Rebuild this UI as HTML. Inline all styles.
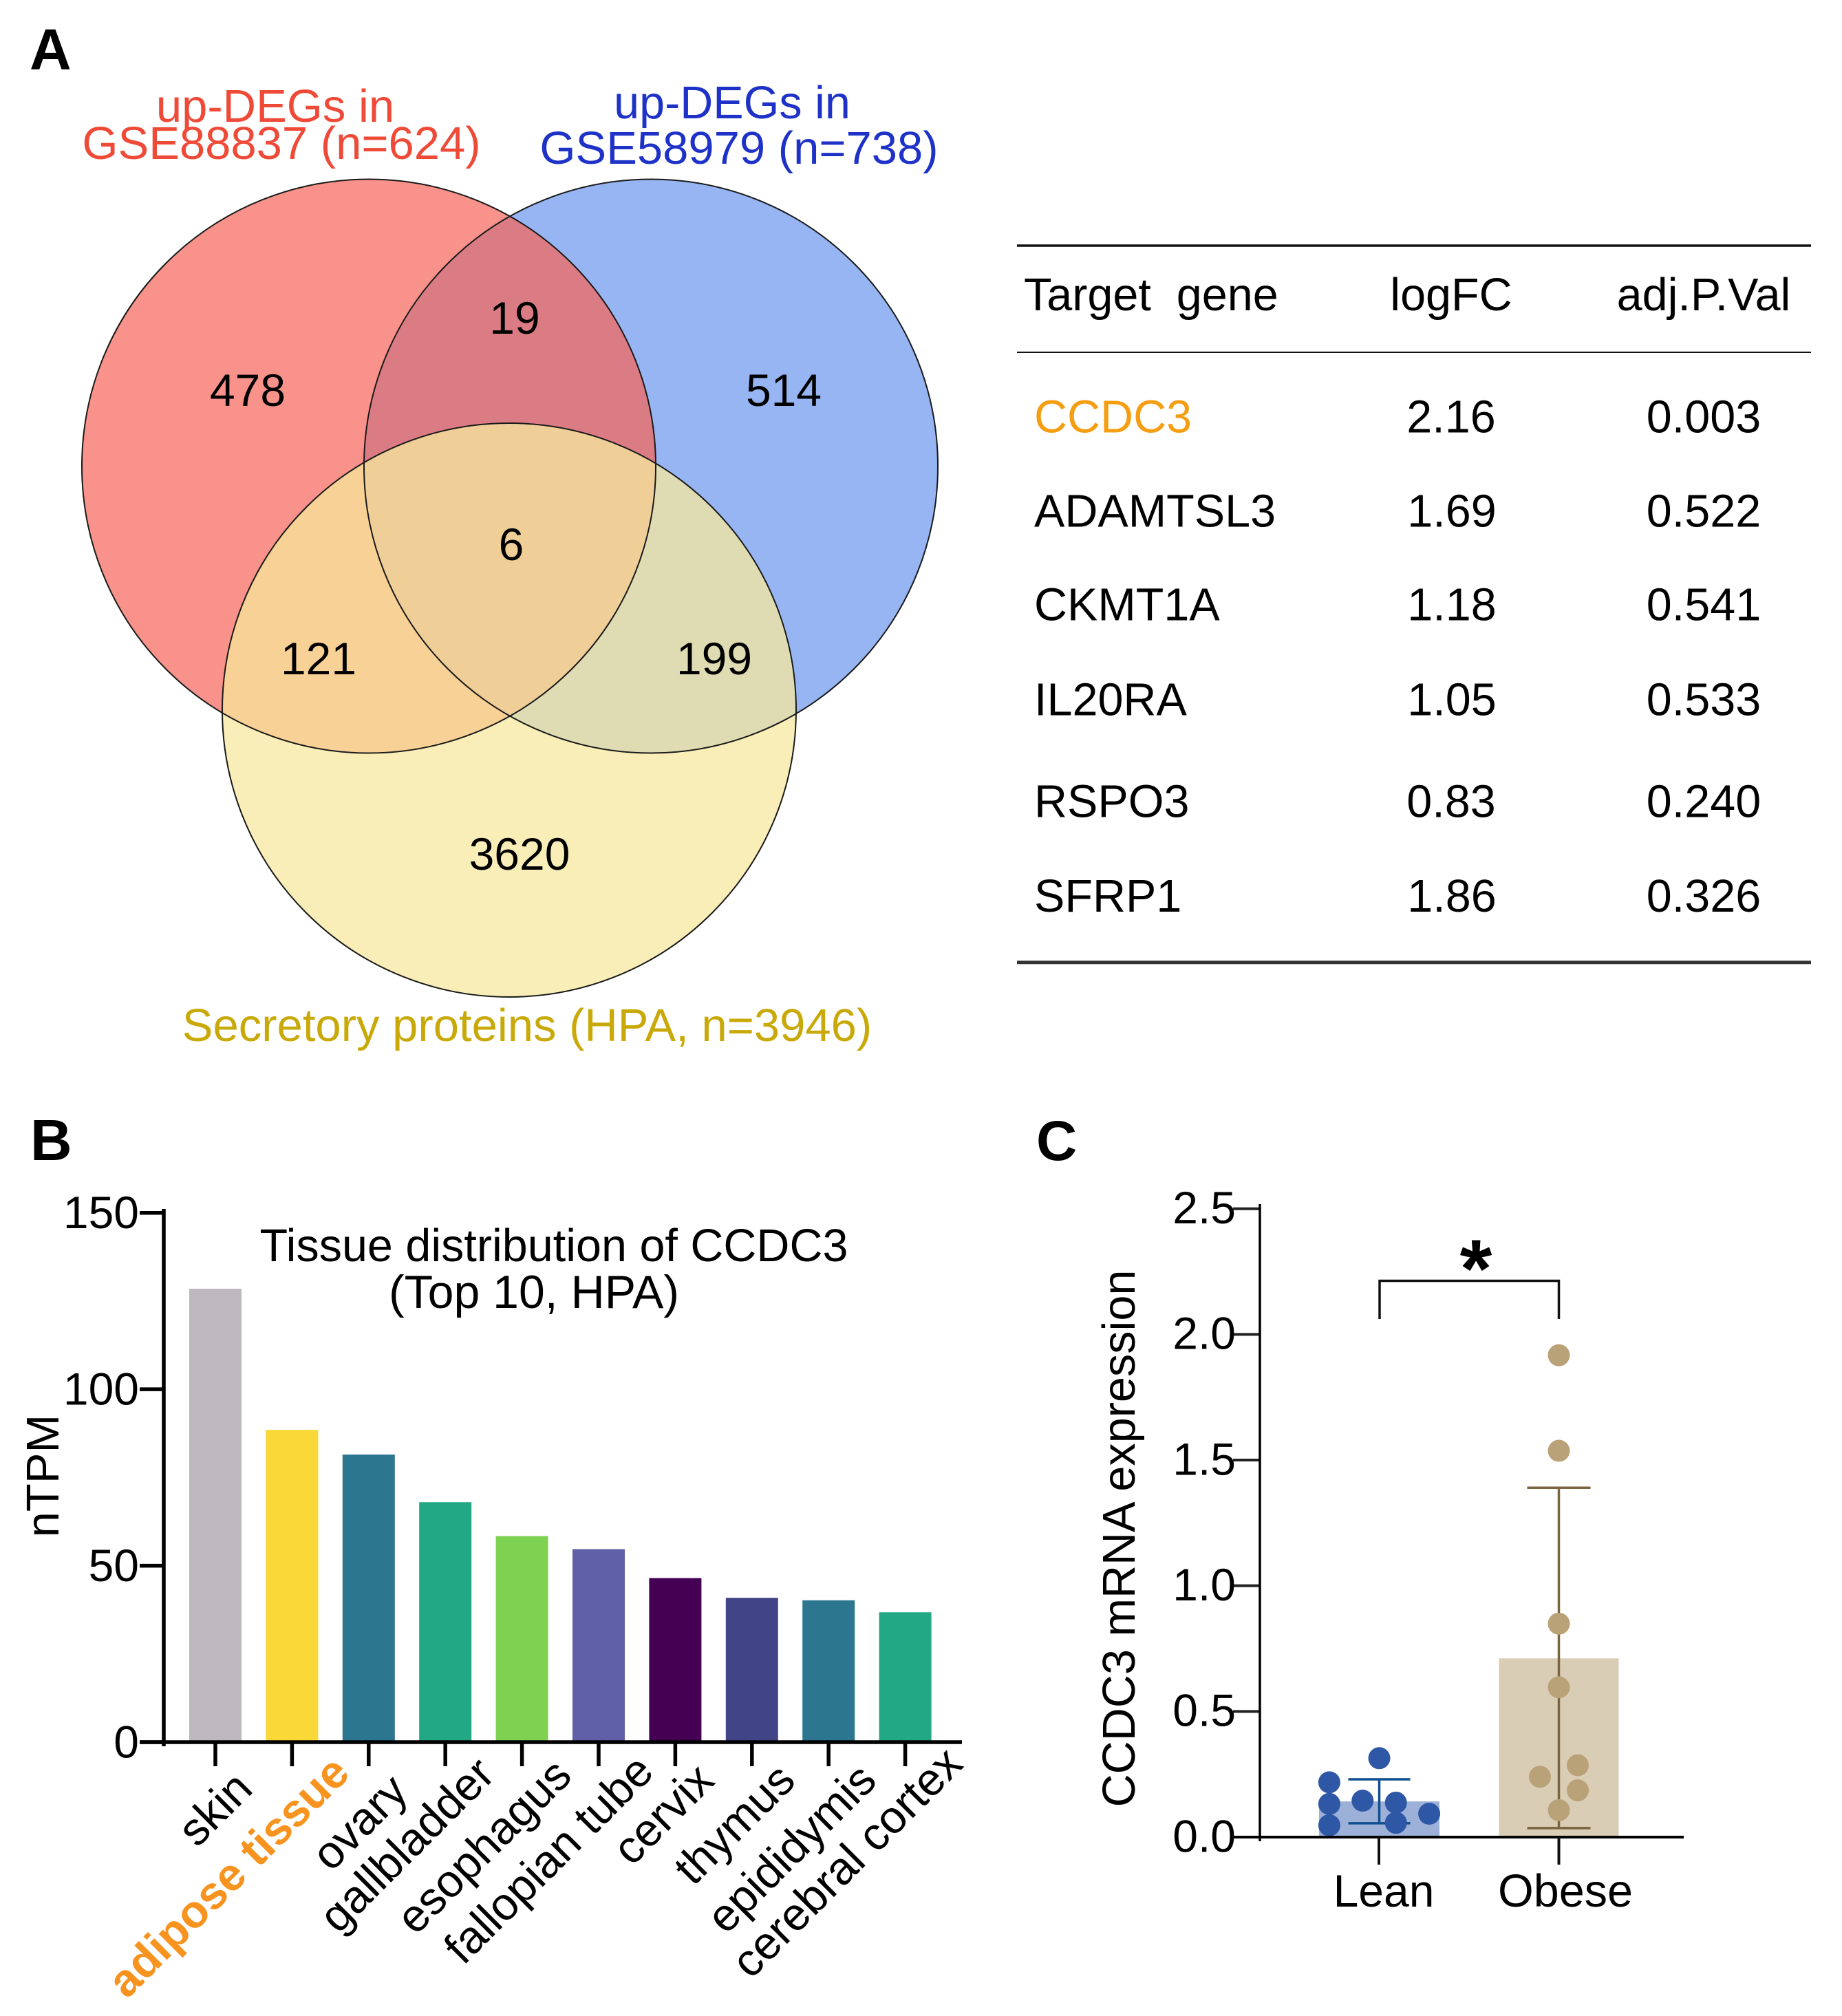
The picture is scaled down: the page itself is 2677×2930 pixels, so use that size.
<!DOCTYPE html>
<html lang="en">
<head>
<meta charset="utf-8">
<title>CCDC3 figure</title>
<style>
html,body{margin:0;padding:0;background:#fff}
svg{display:block}
text{font-family:"Liberation Sans",sans-serif;fill:#000}
</style>
</head>
<body>
<svg id="figure" xmlns="http://www.w3.org/2000/svg" width="2677" height="2930" viewBox="0 0 2677 2930">
<rect width="2677" height="2930" fill="#fff"/>
<defs>
<clipPath id="clip-red"><circle cx="536" cy="677.5" r="417"/></clipPath>
<clipPath id="clip-blue"><circle cx="946" cy="677.5" r="417"/></clipPath>
<clipPath id="clip-yellow"><circle cx="740" cy="1032" r="417"/></clipPath>
</defs>

<text x="43" y="101" font-size="84" font-weight="700">A</text>
<text x="44" y="1686" font-size="84" font-weight="700">B</text>
<text x="1506" y="1686" font-size="82" font-weight="700">C</text>

<g>
<circle cx="536" cy="677.5" r="417" fill="#F8928A"/>
<circle cx="946" cy="677.5" r="417" fill="#96B5F2"/>
<g clip-path="url(#clip-red)"><circle cx="946" cy="677.5" r="417" fill="#DB7C84"/></g>
<circle cx="740" cy="1032" r="417" fill="#F9EEB7"/>
<g clip-path="url(#clip-yellow)">
<circle cx="536" cy="677.5" r="417" fill="#F7D196"/>
<circle cx="946" cy="677.5" r="417" fill="#DFDCB3"/>
<g clip-path="url(#clip-red)"><circle cx="946" cy="677.5" r="417" fill="#EFCE98"/></g>
</g>
<g fill="none" stroke="#1a1a1a" stroke-width="2">
<circle cx="536" cy="677.5" r="417"/>
<circle cx="946" cy="677.5" r="417"/>
<circle cx="740" cy="1032" r="417"/>
</g>
<g font-size="66" text-anchor="middle">
<text x="360" y="590">478</text>
<text x="748" y="485">19</text>
<text x="1139" y="590">514</text>
<text x="743" y="814">6</text>
<text x="463" y="980">121</text>
<text x="1038" y="980">199</text>
<text x="755" y="1264">3620</text>
</g>
<g font-size="67" text-anchor="middle">
<text x="400" y="177" style="fill:#EF4A38">up-DEGs in</text>
<text x="409" y="231" style="fill:#EF4A38">GSE88837 (n=624)</text>
<text x="1064" y="172" font-size="66.5" style="fill:#1E32C8">up-DEGs in</text>
<text x="1074" y="238" style="fill:#1E32C8">GSE58979 (n=738)</text>
<text x="766" y="1513" style="fill:#C9A908">Secretory proteins (HPA, n=3946)</text>
</g>
</g>

<g font-size="66.5">
<line x1="1478" x2="2632" y1="357" y2="357" stroke="#111" stroke-width="3.5"/>
<line x1="1478" x2="2632" y1="512" y2="512" stroke="#111" stroke-width="2"/>
<line x1="1478" x2="2632" y1="1398.7" y2="1398.7" stroke="#333" stroke-width="5"/>
<text x="1488" y="451" xml:space="preserve">Target  gene</text>
<text x="2109" y="451" text-anchor="middle">logFC</text>
<text x="2476" y="451" text-anchor="middle">adj.P.Val</text>
<text x="1503" y="628.5" style="fill:#F59E12">CCDC3</text>
<text x="2109" y="628.5" text-anchor="middle">2.16</text>
<text x="2476" y="628.5" text-anchor="middle">0.003</text>
<text x="1503" y="765.5">ADAMTSL3</text>
<text x="2110" y="765.5" text-anchor="middle">1.69</text>
<text x="2476" y="765.5" text-anchor="middle">0.522</text>
<text x="1503" y="901.5">CKMT1A</text>
<text x="2110" y="901.5" text-anchor="middle">1.18</text>
<text x="2476" y="901.5" text-anchor="middle">0.541</text>
<text x="1503" y="1039.5">IL20RA</text>
<text x="2110" y="1039.5" text-anchor="middle">1.05</text>
<text x="2476" y="1039.5" text-anchor="middle">0.533</text>
<text x="1503" y="1187.5">RSPO3</text>
<text x="2109" y="1187.5" text-anchor="middle">0.83</text>
<text x="2476" y="1187.5" text-anchor="middle">0.240</text>
<text x="1503" y="1325">SFRP1</text>
<text x="2110" y="1325" text-anchor="middle">1.86</text>
<text x="2476" y="1325" text-anchor="middle">0.326</text>
</g>

<g id="chart-b">
<text x="805" y="1833" font-size="66.5" text-anchor="middle">Tissue distribution of CCDC3</text>
<text x="776" y="1901" font-size="68" text-anchor="middle">(Top 10, HPA)</text>
<text transform="translate(85 2145) rotate(-90)" font-size="67" text-anchor="middle">nTPM</text>
<g id="chart-b-marks"></g>
<g font-size="66.5" text-anchor="end">
<text transform="translate(370 2603) rotate(-45)">skin</text>
<text transform="translate(511 2580) rotate(-45)" font-weight="700" style="fill:#F7931E">adipose tissue</text>
<text transform="translate(596 2607) rotate(-45)">ovary</text>
<text transform="translate(722 2582) rotate(-45)">gallbladder</text>
<text transform="translate(834 2584) rotate(-45)">esophagus</text>
<text transform="translate(953 2578) rotate(-45)">fallopian tube</text>
<text transform="translate(1041 2591) rotate(-45)">cervix</text>
<text transform="translate(1159 2591) rotate(-45)">thymus</text>
<text transform="translate(1277 2591) rotate(-45)">epididymis</text>
<text transform="translate(1402 2567) rotate(-45)">cerebral cortex</text>
</g>
</g>

<g id="chart-c">
<text transform="translate(1649 2236) rotate(-90)" font-size="66.6" text-anchor="middle">CCDC3 mRNA expression</text>
<g id="chart-c-marks"></g>
<text x="2011" y="2771" font-size="66" text-anchor="middle">Lean</text>
<text x="2275" y="2771" font-size="66.5" text-anchor="middle">Obese</text>
<path d="M2005 1917V1861.5H2265.5V1917" fill="none" stroke="#111" stroke-width="3.5"/>
<text x="2145" y="1885" font-size="120" font-weight="700" text-anchor="middle">*</text>
</g>
</svg>

<script>
// Panel B data
const tissueCategories = ['skin','adipose tissue','ovary','gallbladder','esophagus','fallopian tube','cervix','thymus','epididymis','cerebral cortex'];
const tissueValues = [128.5,88.5,81.5,68.0,58.4,54.7,46.5,40.9,40.2,36.8];
const tissueColors = ['#BDB8BE','#F9D838','#2C7690','#22A884','#7ED151','#6060A8','#440154','#414487','#2C7690','#22A884'];
const tissueTicks = [0,50,100,150];

// Panel C data
const expressionTicks = [0,0.5,1,1.5,2,2.5];
const expressionTickLabels = ['0.0','0.5','1.0','1.5','2.0','2.5'];
const leanMean = 0.142;
const leanErrorTop = 0.23;
const leanErrorBottom = 0.055;
const obeseMean = 0.711;
const obeseErrorTop = 1.39;
const obeseErrorBottom = 0.036;
const leanPoints = [0.218,0.132,0.047,0.145,0.314,0.137,0.057,0.093];
const leanSwarmSlots = [-3,-3,-3,-1,0,1,1,3];
const obesePoints = [1.917,1.537,0.849,0.596,0.24,0.286,0.186,0.107];
const obeseSwarmSlots = [0,0,0,0,-1,1,1,0];

const SVGNS = 'http://www.w3.org/2000/svg';
function mk(parent, tag, attrs) {
  const el = document.createElementNS(SVGNS, tag);
  for (const k in attrs) el.setAttribute(k, attrs[k]);
  parent.appendChild(el);
  return el;
}
function slug(s) { return String(s).toLowerCase().replace(/[^a-z0-9]+/g, '-'); }

// ---------- Panel B ----------
(function () {
  const g = document.getElementById('chart-b-marks');
  const y = v => 2532 - v * (2532 - 1762.7) / 150;
  const x = i => 313 + i * 111.4;
  tissueValues.forEach((v, i) => {
    const bar = mk(g, 'rect', { x: x(i) - 38, y: y(v), width: 76, height: 2532 - y(v), fill: tissueColors[i] });
    
    
    const tick = mk(g, 'line', { x1: x(i), x2: x(i), y1: 2532, y2: 2567, stroke: '#000', 'stroke-width': 5.5 });
    
    
  });
  tissueTicks.forEach(t => {
    const tick = mk(g, 'line', { x1: 203, x2: 238, y1: y(t), y2: y(t), stroke: '#000', 'stroke-width': 5.5 });
    
    
    const label = mk(g, 'text', { x: 202, y: y(t) + 22.5, 'font-size': 66, 'text-anchor': 'end' });
    label.textContent = t;
    
    
  });
  const yAxis = mk(g, 'line', { x1: 238, x2: 238, y1: 1757, y2: 2538, stroke: '#000', 'stroke-width': 5.5 });
  
  
  const xAxis = mk(g, 'line', { x1: 203, x2: 1398, y1: 2532, y2: 2532, stroke: '#000', 'stroke-width': 5.5 });
  
  
})();

// ---------- Panel C ----------
(function () {
  const g = document.getElementById('chart-c-marks');
  const y = v => 2670 - v * (2670 - 1756.7) / 2.5;
  const leanX = 2004.5;
  const obeseX = 2265.5;
  const leanSlot = 24.2;
  const obeseSlot = 27.5;

  const leanBar = mk(g, 'rect', { x: leanX - 87.5, y: y(leanMean), width: 175, height: 2670 - y(leanMean), fill: '#9DB0D8' });
  
  
  const obeseBar = mk(g, 'rect', { x: obeseX - 87, y: y(obeseMean), width: 174, height: 2670 - y(obeseMean), fill: '#DACDB5' });
  
  

  const leanErr = mk(g, 'path', {
    d: 'M' + (leanX - 45) + ' ' + y(leanErrorTop) + 'H' + (leanX + 45) + 'M' + leanX + ' ' + y(leanErrorTop) + 'V' + y(leanErrorBottom) + 'M' + (leanX - 45) + ' ' + y(leanErrorBottom) + 'H' + (leanX + 45),
    fill: 'none', stroke: '#0F4F8F', 'stroke-width': 3.5
  });
  
  
  const obeseErr = mk(g, 'path', {
    d: 'M' + (obeseX - 46) + ' ' + y(obeseErrorTop) + 'H' + (obeseX + 46) + 'M' + obeseX + ' ' + y(obeseErrorTop) + 'V' + y(obeseErrorBottom) + 'M' + (obeseX - 46) + ' ' + y(obeseErrorBottom) + 'H' + (obeseX + 46),
    fill: 'none', stroke: '#7B643F', 'stroke-width': 3.5
  });
  
  

  leanPoints.forEach((v, i) => {
    const c = mk(g, 'circle', { cx: leanX + leanSwarmSlots[i] * leanSlot, cy: y(v), r: 16, fill: '#2E58A6' });
    
    
  });
  obesePoints.forEach((v, i) => {
    const c = mk(g, 'circle', { cx: obeseX + obeseSwarmSlots[i] * obeseSlot, cy: y(v), r: 16, fill: '#B9A178' });
    
    
  });

  expressionTicks.forEach((t, i) => {
    const tick = mk(g, 'line', { x1: 1792, x2: 1831, y1: y(t), y2: y(t), stroke: '#222', 'stroke-width': 4 });
    
    
    const label = mk(g, 'text', { x: 1796, y: y(t) + 21.3, 'font-size': 66, 'text-anchor': 'end' });
    label.textContent = expressionTickLabels[i];
    
    
  });
  const yAxis = mk(g, 'line', { x1: 1831, x2: 1831, y1: 1750, y2: 2676, stroke: '#000', 'stroke-width': 3.5 });
  
  
  const xAxis = mk(g, 'line', { x1: 1792, x2: 2447, y1: 2670, y2: 2670, stroke: '#000', 'stroke-width': 4 });
  
  
  const tickLean = mk(g, 'line', { x1: leanX - 0.5, x2: leanX - 0.5, y1: 2670, y2: 2710, stroke: '#111', 'stroke-width': 4 });
  
  
  const tickObese = mk(g, 'line', { x1: obeseX, x2: obeseX, y1: 2670, y2: 2710, stroke: '#111', 'stroke-width': 4 });
  
  
})();
</script>
</body>
</html>
